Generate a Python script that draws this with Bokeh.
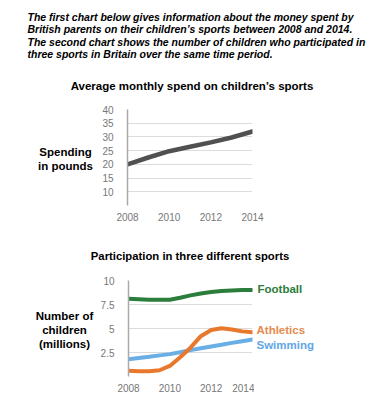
from bokeh.plotting import figure
from bokeh.models import Range1d, FixedTicker
from bokeh.layouts import column, row
from bokeh.core.properties import value
from bokeh.embed import file_html
from bokeh.resources import INLINE

# ---------------- data ----------------
years_spend = [2008, 2009, 2010, 2011, 2012, 2013, 2014]
spending = [20, 22.5, 24.8, 26.4, 28, 29.8, 32]

years_half = [2008, 2008.5, 2009, 2009.5, 2010, 2010.5, 2011, 2011.5, 2012, 2012.5, 2013, 2013.5, 2014]
football = [8.1, 8.05, 8.0, 8.0, 8.0, 8.2, 8.45, 8.65, 8.8, 8.9, 8.95, 9.0, 9.0]
athletics = [0.6, 0.55, 0.55, 0.65, 1.1, 2.0, 3.0, 4.2, 4.85, 5.03, 4.9, 4.7, 4.6]
swimming = [1.8, 1.93, 2.06, 2.2, 2.33, 2.53, 2.75, 2.94, 3.13, 3.3, 3.5, 3.68, 3.85]

series_names = ["Football", "Athletics", "Swimming"]
series_label_y = [9.07, 4.8, 3.3]

x_ticks = [2008, 2010, 2012, 2014]
spend_ticks = [10, 15, 20, 25, 30, 35, 40]
part_ticks = [2.5, 5, 7.5, 10]
part_tick_labels = {2.5: "2.5", 5: "5", 7.5: "7.5", 10: "10"}

header_lines = [
    "The first chart below gives information about the money spent by",
    "British parents on their children\u2019s sports between 2008 and 2014.",
    "The second chart shows the number of children who participated in",
    "three sports in Britain over the same time period.",
]
title1 = "Average monthly spend on children\u2019s sports"
title2 = "Participation in three different sports"
ylabel1 = ["Spending", "in pounds"]
ylabel2 = ["Number of", "children", "(millions)"]

FONT = "Liberation Sans"
W = 373
LEFT_W = 97          # width of the left text column
AX_W = 30            # room for y tick labels
FRAME_W, FRAME_H = 125, 96
C_GREEN, C_ORANGE, C_BLUE = "#2a7d3a", "#e8782c", "#6aaee6"
L_GREEN, L_ORANGE, L_BLUE = "#2a7d3a", "#e58a4e", "#5fa6e6"


def text_fig(w, h, top=0, bottom=0, y_range=None):
    # frame spans the given borders; default y range maps 1 unit = 1 px (downwards)
    p = figure(width=w, height=h, output_backend="svg", toolbar_location=None,
               x_axis_type=None, y_axis_type=None,
               x_range=Range1d(0, w), y_range=y_range or Range1d(h - bottom, top),
               min_border_left=0, min_border_right=0,
               min_border_top=top, min_border_bottom=bottom)
    p.outline_line_color = None
    p.grid.grid_line_color = None
    p.background_fill_color = "white"
    p.border_fill_color = "white"
    return p


def put(p, x, y, t, size, color="black", align="center", style="bold"):
    p.text(x=[x], y=[y], text=[t], text_font=value(FONT), text_font_size=value(size),
           text_font_style=style, text_color=color, text_align=align,
           text_baseline="middle")


def style_chart(p):
    p.outline_line_color = None
    p.background_fill_color = "white"
    p.border_fill_color = "white"
    p.xgrid.grid_line_color = None
    p.ygrid.grid_line_color = "#dcdcdc"
    p.ygrid.grid_line_width = 1
    for ax in (p.xaxis[0], p.yaxis[0]):
        ax.major_tick_line_color = None
        ax.minor_tick_line_color = None
        ax.major_label_text_font = FONT
        ax.major_label_text_font_size = "10px"
        ax.major_label_text_color = "#777777"
    p.xaxis.axis_line_color = None
    p.yaxis.axis_line_color = "#aaaaaa"
    p.yaxis.axis_line_width = 1.5
    p.xaxis.ticker = FixedTicker(ticks=x_ticks)
    p.xaxis.major_label_standoff = 1
    p.yaxis.major_label_standoff = 8


# ---------------- header (page y 0..98) ----------------
H_HEAD = 98
head = text_fig(W, H_HEAD)
for i, t in enumerate(header_lines):
    put(head, 27, 16 + i * 12.5, t, "10.5px", align="left", style="bold italic")
put(head, 191.5, 85, title1, "11.5px")

# ---------------- chart 1 row (page y 98..232) ----------------
H_R1 = 134
TOP1 = 11
BOT1 = H_R1 - TOP1 - FRAME_H
left1 = text_fig(LEFT_W, H_R1, top=TOP1, bottom=BOT1)
put(left1, 65, 151.5 - H_HEAD, ylabel1[0], "11.5px")
put(left1, 65, 165 - H_HEAD, ylabel1[1], "11.5px")

p1 = figure(width=W - LEFT_W, height=H_R1, output_backend="svg", toolbar_location=None,
            x_range=Range1d(2008, 2014), y_range=Range1d(5, 40),
            min_border_left=AX_W, min_border_right=W - LEFT_W - AX_W - FRAME_W,
            min_border_top=TOP1, min_border_bottom=BOT1)
style_chart(p1)
p1.yaxis.ticker = FixedTicker(ticks=spend_ticks)
p1.line(years_spend, spending, line_color="#505050", line_width=4.5, line_cap="round")

# ---------------- chart 2 title (page y 232..272) ----------------
H_T2 = 40
t2 = text_fig(W, H_T2)
put(t2, 189.5, 255.5 - 232, title2, "11.3px")

# ---------------- chart 2 row (page y 272..404) ----------------
H_R2 = 132
TOP2 = 8
BOT2 = H_R2 - TOP2 - FRAME_H
OFF2 = H_HEAD + H_R1 + H_T2
left2 = text_fig(LEFT_W, H_R2, top=TOP2, bottom=BOT2)
for i, t in enumerate(ylabel2):
    put(left2, 64, 315 - OFF2 + i * 14.2, t, "11.5px")

C2_W = AX_W + FRAME_W + 2
yr2 = Range1d(0, 10)
p2 = figure(width=C2_W, height=H_R2, output_backend="svg", toolbar_location=None,
            x_range=Range1d(2008, 2014), y_range=yr2,
            min_border_left=AX_W, min_border_right=2,
            min_border_top=TOP2, min_border_bottom=BOT2)
style_chart(p2)
p2.yaxis.ticker = FixedTicker(ticks=part_ticks)
p2.yaxis.major_label_overrides = part_tick_labels
p2.line(years_half, swimming, line_color=C_BLUE, line_width=4, line_cap="round")
p2.line(years_half, athletics, line_color=C_ORANGE, line_width=4, line_cap="round")
p2.line(years_half, football, line_color=C_GREEN, line_width=4, line_cap="round")

LEG_W = W - LEFT_W - C2_W
leg = text_fig(LEG_W, H_R2, top=TOP2, bottom=BOT2, y_range=yr2)
for name, yv, col in zip(series_names, series_label_y, [L_GREEN, L_ORANGE, L_BLUE]):
    put(leg, 256 - (LEFT_W + C2_W) + (1 if name == "Football" else 0), yv, name, "11.5px",
        color=col, align="left")

layout = column(head, row(left1, p1), t2, row(left2, p2, leg))
open("out.html", "w").write(file_html(layout, INLINE))
